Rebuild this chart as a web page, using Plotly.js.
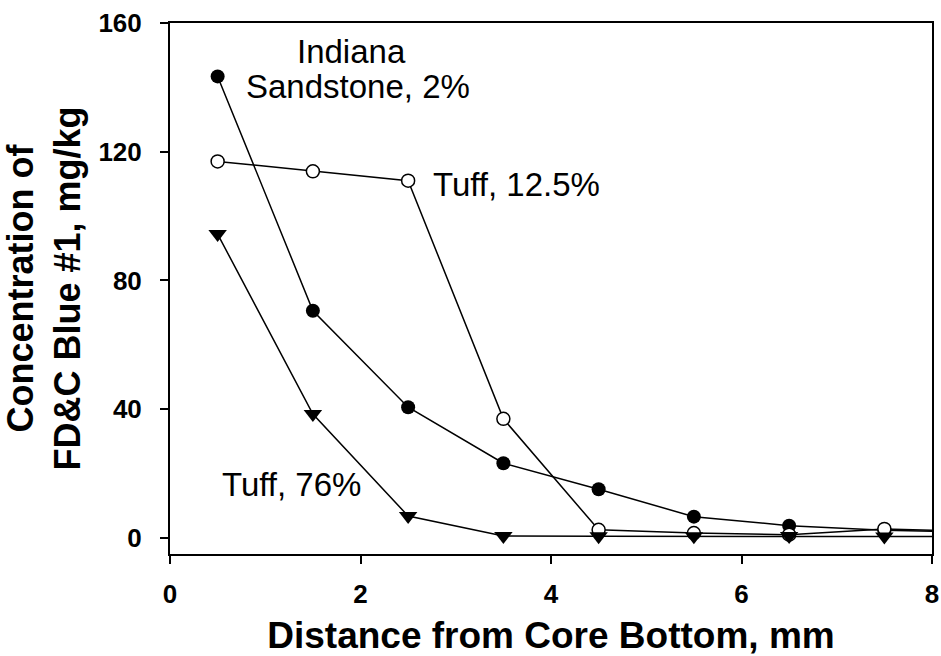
<!DOCTYPE html>
<html>
<head>
<meta charset="utf-8">
<script src="https://cdn.plot.ly/plotly-3.0.1.min.js"></script>
<style>html,body{margin:0;padding:0;background:#fff;}#chart{width:941px;height:656px;}</style>
</head>
<body>
<div id="chart"></div>
<script>
// Distance from core bottom (mm); last point lies beyond the axis and is clipped
const distance = [0.5, 1.5, 2.5, 3.5, 4.5, 5.5, 6.5, 7.5, 8.5];
const indianaSandstone2 = [143.4, 70.6, 40.6, 23.2, 15.1, 6.6, 3.8, 2.4, 1.8];
const tuff12_5 = [117.0, 113.9, 111.0, 37.0, 2.5, 1.5, 1.0, 2.8, 2.0];
const tuff76 = [94.4, 38.5, 6.8, 0.6, 0.5, 0.5, 0.6, 0.4, 0.4];
const xTicks = [0, 2, 4, 6, 8];
const yTicks = [0, 40, 80, 120, 160];

const lineStyle = {color: '#000', width: 1.5};
const traces = [
  {x: distance, y: indianaSandstone2, mode: 'lines+markers', name: 'Indiana Sandstone, 2%',
   line: lineStyle, marker: {symbol: 'circle', size: 14, color: '#000'}},
  {x: distance, y: tuff12_5, mode: 'lines+markers', name: 'Tuff, 12.5%',
   line: lineStyle, marker: {symbol: 'circle', size: 13, color: '#fff', line: {color: '#000', width: 1.5}}},
  {x: distance, y: tuff76, mode: 'lines+markers', name: 'Tuff, 76%',
   line: lineStyle, marker: {symbol: 'triangle-down', size: 16, color: '#000'}}
];

const annFont = {family: 'Liberation Sans, Arial, sans-serif', size: 33, color: '#000'};
const layout = {
  width: 941, height: 656,
  margin: {l: 170, r: 9, t: 23, b: 102},
  paper_bgcolor: '#fff', plot_bgcolor: '#fff',
  showlegend: false,
  font: {family: 'Liberation Sans, Arial, sans-serif', color: '#000'},
  xaxis: {
    range: [0, 8], tickvals: xTicks, ticktext: xTicks.map(String),
    showgrid: false, zeroline: false,
    showline: true, linecolor: '#000', linewidth: 2, mirror: true,
    ticks: 'outside', ticklen: 8, tickwidth: 2, tickcolor: '#000',
    tickfont: {family: 'Liberation Sans, Arial, sans-serif', size: 26, weight: 'bold'},
    ticklabelstandoff: 8,
    title: {text: '<b>Distance from Core Bottom, mm</b>', font: {size: 37}, standoff: 14},
    automargin: false
  },
  yaxis: {
    range: [-5, 160], tickvals: yTicks, ticktext: yTicks.map(String),
    showgrid: false, zeroline: false,
    showline: true, linecolor: '#000', linewidth: 2, mirror: true,
    ticks: 'outside', ticklen: 8, tickwidth: 2, tickcolor: '#000',
    tickfont: {family: 'Liberation Sans, Arial, sans-serif', size: 26, weight: 'bold'},
    ticklabelstandoff: 13,
    title: {text: '<b>Concentration of<br>FD&amp;C Blue #1, mg/kg</b>', font: {size: 36}, standoff: 8},
    automargin: false
  },
  annotations: [
    {x: 1.91, y: 151.3, xref: 'x', yref: 'y', text: 'Indiana', showarrow: false, xanchor: 'center', yanchor: 'middle', font: annFont},
    {x: 1.97, y: 140.2, xref: 'x', yref: 'y', text: 'Sandstone, 2%', showarrow: false, xanchor: 'center', yanchor: 'middle', font: annFont},
    {x: 2.74, y: 109.9, xref: 'x', yref: 'y', text: 'Tuff, 12.5%', showarrow: false, xanchor: 'left', yanchor: 'middle', font: annFont},
    {x: 0.525, y: 16.5, xref: 'x', yref: 'y', text: 'Tuff, 76%', showarrow: false, xanchor: 'left', yanchor: 'middle', font: annFont}
  ]
};
Plotly.newPlot('chart', traces, layout, {displayModeBar: false, staticPlot: true});
</script>
</body>
</html>
